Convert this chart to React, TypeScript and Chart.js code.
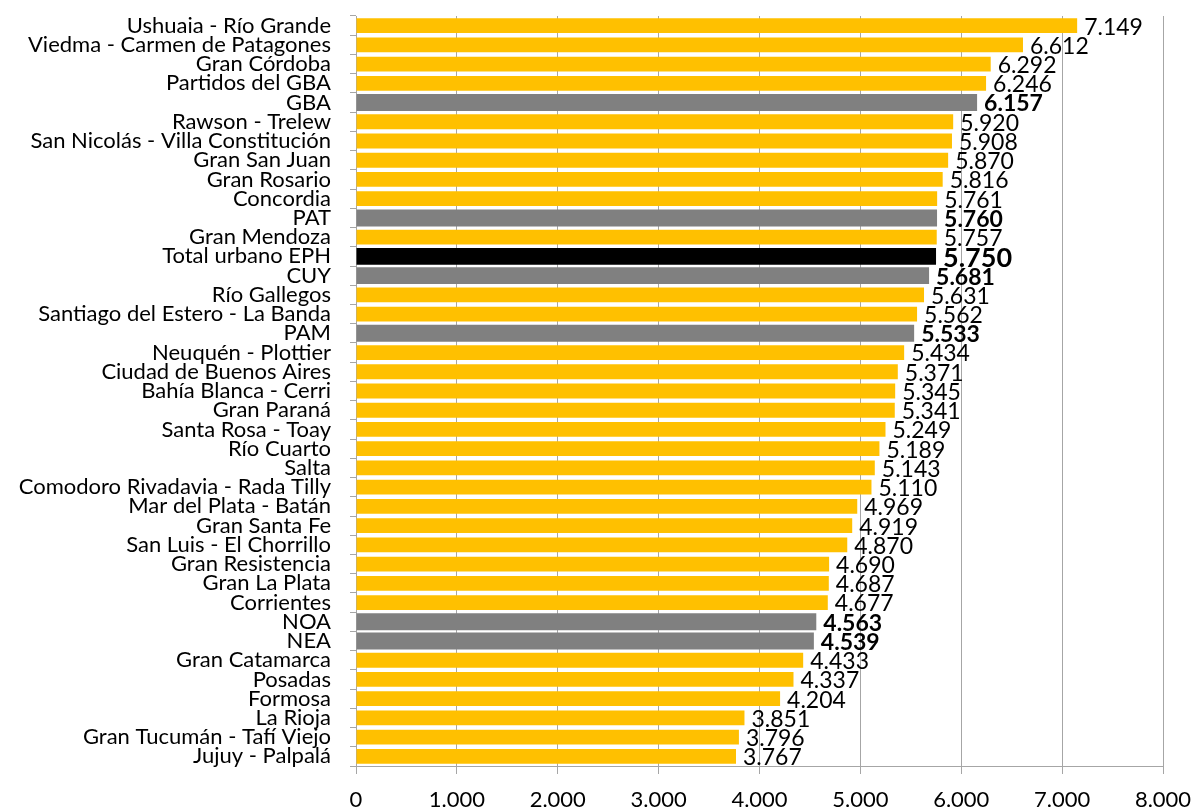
import React, { useEffect, useRef } from "react";
import { Chart, registerables } from "chart.js";

Chart.register(...registerables);

const categories = [
  "Ushuaia - Río Grande",
  "Viedma - Carmen de Patagones",
  "Gran Córdoba",
  "Partidos del GBA",
  "GBA",
  "Rawson - Trelew",
  "San Nicolás - Villa Constitución",
  "Gran San Juan",
  "Gran Rosario",
  "Concordia",
  "PAT",
  "Gran Mendoza",
  "Total urbano EPH",
  "CUY",
  "Río Gallegos",
  "Santiago del Estero - La Banda",
  "PAM",
  "Neuquén - Plottier",
  "Ciudad de Buenos Aires",
  "Bahía Blanca - Cerri",
  "Gran Paraná",
  "Santa Rosa - Toay",
  "Río Cuarto",
  "Salta",
  "Comodoro Rivadavia - Rada Tilly",
  "Mar del Plata - Batán",
  "Gran Santa Fe",
  "San Luis - El Chorrillo",
  "Gran Resistencia",
  "Gran La Plata",
  "Corrientes",
  "NOA",
  "NEA",
  "Gran Catamarca",
  "Posadas",
  "Formosa",
  "La Rioja",
  "Gran Tucumán - Tafí Viejo",
  "Jujuy - Palpalá",
];

const values = [
  7149, 6612, 6292, 6246, 6157, 5920, 5908, 5870, 5816, 5761, 5760, 5757, 5750,
  5681, 5631, 5562, 5533, 5434, 5371, 5345, 5341, 5249, 5189, 5143, 5110, 4969,
  4919, 4870, 4690, 4687, 4677, 4563, 4539, 4433, 4337, 4204, 3851, 3796, 3767,
];

// "c" = aglomerado, "r" = región, "t" = total
const kinds = [
  "c", "c", "c", "c", "r", "c", "c", "c", "c", "c", "r", "c", "t", "r", "c",
  "c", "r", "c", "c", "c", "c", "c", "c", "c", "c", "c", "c", "c", "c", "c",
  "c", "r", "r", "c", "c", "c", "c", "c", "c",
];

const xTicks = [0, 1000, 2000, 3000, 4000, 5000, 6000, 7000, 8000];

const COLORS: Record<string, string> = { c: "#FFC000", r: "#808080", t: "#000000" };
const FONT = "Lato, 'Noto Sans', sans-serif";

const fmt = (v: number) => {
  const s = Math.round(v).toString();
  return s.replace(/\B(?=(\d{3})+(?!\d))/g, ".");
};

const cityValues = values.map((v, i) => (kinds[i] === "c" ? v : null));
const aggValues = values.map((v, i) => (kinds[i] !== "c" ? v : null));

const valueLabels = {
  id: "valueLabels",
  afterDatasetsDraw(chart: any) {
    const ctx = chart.ctx;
    const xScale = chart.scales.x;
    const yScale = chart.scales.y;
    ctx.save();
    ctx.textBaseline = "middle";
    ctx.textAlign = "left";
    ctx.fillStyle = "#000";
    values.forEach((v, i) => {
      const k = kinds[i];
      let font = `23px ${FONT}`;
      if (k === "r") font = `bold 23px ${FONT}`;
      if (k === "t") font = `bold 27px ${FONT}`;
      ctx.font = font;
      const x = xScale.getPixelForValue(v);
      const y = yScale.getPixelForValue(i);
      ctx.fillText(fmt(v), x + 7, y + 1.5);
    });
    ctx.restore();
  },
};

export default function App() {
  const ref = useRef<HTMLCanvasElement | null>(null);
  useEffect(() => {
    document.body.style.margin = "0";
    if (!ref.current) return;
    const chart = new Chart(ref.current, {
      type: "bar",
      data: {
        labels: categories,
        datasets: [
          {
            data: cityValues as any,
            backgroundColor: COLORS.c,
            borderWidth: 0,
            barPercentage: 0.77,
            categoryPercentage: 1,
            grouped: false,
          },
          {
            data: aggValues as any,
            backgroundColor: kinds.map((k) => COLORS[k]),
            borderWidth: 0,
            barPercentage: 0.88,
            categoryPercentage: 1,
            grouped: false,
          },
        ],
      },
      plugins: [valueLabels],
      options: {
        indexAxis: "y",
        animation: false,
        responsive: true,
        maintainAspectRatio: false,
        layout: { padding: { top: 16, right: 32, left: 0, bottom: 0 } },
        plugins: {
          legend: { display: false },
          tooltip: { enabled: false },
        },
        scales: {
          x: {
            min: 0,
            max: 8000,
            afterBuildTicks: (axis: any) => {
              axis.ticks = xTicks.map((v) => ({ value: v }));
            },
            afterFit: (axis: any) => {
              axis.height = 42;
              axis.paddingLeft = 0;
              axis.paddingRight = 0;
            },
            grid: {
              color: "#A6A6A6",
              lineWidth: 1,
              drawTicks: true,
              tickLength: 8,
            },
            border: { color: "#A6A6A6" },
            ticks: {
              padding: 13,
              color: "#000",
              font: { family: FONT, size: 22 },
              callback: (v: any) => fmt(Number(v)),
              maxRotation: 0,
            },
          },
          y: {
            afterFit: (axis: any) => {
              axis.width = 356;
              axis.paddingTop = 0;
              axis.paddingBottom = 0;
            },
            grid: {
              display: true,
              drawOnChartArea: false,
              drawTicks: true,
              tickLength: 6,
              offset: true,
              color: "#A6A6A6",
            },
            border: { color: "#A6A6A6" },
            ticks: {
              padding: 19,
              color: "#000",
              autoSkip: false,
              font: { family: FONT, size: 22 },
            },
          },
        },
      },
    });
    return () => chart.destroy();
  }, []);
  return (
    <div style={{ width: 1195, height: 808, position: "relative" }}>
      <canvas ref={ref} />
    </div>
  );
}
